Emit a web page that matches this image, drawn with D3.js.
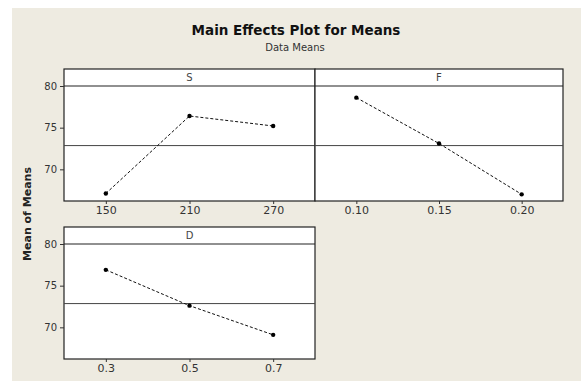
<!DOCTYPE html>
<html>
<head>
<meta charset="utf-8">
<script src="https://cdn.jsdelivr.net/npm/d3@7"></script>
<style>
  body { margin: 0; background: #fff; }
  svg { display: block; }
</style>
</head>
<body>
<div id="chart"></div>
<script>
// Main effects data
var factorNames = ["S", "F", "D"];
var sLevels = ["150", "210", "270"];
var sMeans = [67.1, 76.4, 75.2];
var fLevels = ["0.10", "0.15", "0.20"];
var fMeans = [78.6, 73.1, 67.0];
var dLevels = ["0.3", "0.5", "0.7"];
var dMeans = [76.9, 72.6, 69.1];
var grandMean = 72.85;
var yTicks = [70, 75, 80];

var panels = [
  { name: factorNames[0], levels: sLevels, means: sMeans, col: 0, row: 0, yAxis: true },
  { name: factorNames[1], levels: fLevels, means: fMeans, col: 1, row: 0, yAxis: false },
  { name: factorNames[2], levels: dLevels, means: dMeans, col: 0, row: 1, yAxis: true }
];

var width = 581, height = 381;
var colX = [64, 315, 563];
var rowTop = [69, 227];
var stripH = 17, plotH = 115;

var svg = d3.select("#chart").append("svg")
  .attr("width", width)
  .attr("height", height);

svg.append("rect")
  .attr("x", 12).attr("y", 8)
  .attr("width", width - 12).attr("height", height - 8)
  .attr("fill", "#eeebe1");

// titles
svg.append("text")
  .attr("x", 296).attr("y", 35)
  .attr("text-anchor", "middle")
  .attr("font-family", "DejaVu Sans")
  .attr("font-weight", "bold")
  .attr("font-size", "13.5px")
  .attr("fill", "#111")
  .text("Main Effects Plot for Means");

svg.append("text")
  .attr("x", 295).attr("y", 51)
  .attr("text-anchor", "middle")
  .attr("font-family", "DejaVu Sans")
  .attr("font-size", "10px")
  .attr("fill", "#333")
  .text("Data Means");

svg.append("text")
  .attr("transform", "translate(31," + ((rowTop[0] + rowTop[1] + stripH + plotH) / 2) + ") rotate(-90)")
  .attr("text-anchor", "middle")
  .attr("font-family", "DejaVu Sans")
  .attr("font-weight", "bold")
  .attr("font-size", "11px")
  .attr("fill", "#222")
  .text("Mean of Means");

panels.forEach(function(p) {
  var x0 = colX[p.col], x1 = colX[p.col + 1];
  var top = rowTop[p.row];
  var plotTop = top + stripH;

  var xScale = d3.scalePoint().domain(p.levels).range([x0, x1]).padding(0.5);
  var yScale = d3.scaleLinear().domain([66.2, 80]).range([plotTop + plotH, plotTop]);

  var g = svg.append("g");

  // panel box incl. strip
  g.append("rect")
    .attr("x", x0).attr("y", top)
    .attr("width", x1 - x0).attr("height", stripH + plotH)
    .attr("fill", "#fff")
    .attr("stroke", "#222")
    .attr("stroke-width", 1.2);

  // strip bottom line (coincides with 80)
  g.append("line")
    .attr("x1", x0).attr("x2", x1)
    .attr("y1", yScale(80)).attr("y2", yScale(80))
    .attr("stroke", "#222").attr("stroke-width", 1.2);

  g.append("text")
    .attr("x", (x0 + x1) / 2).attr("y", top + 12)
    .attr("text-anchor", "middle")
    .attr("font-family", "DejaVu Sans")
    .attr("font-size", "10px")
    .attr("fill", "#444")
    .text(p.name);

  // grand mean reference line
  g.append("line")
    .attr("x1", x0).attr("x2", x1)
    .attr("y1", yScale(grandMean)).attr("y2", yScale(grandMean))
    .attr("stroke", "#444").attr("stroke-width", 1);

  // x axis
  var xAxis = g.append("g")
    .attr("transform", "translate(0," + (plotTop + plotH) + ")")
    .call(d3.axisBottom(xScale).tickSize(3).tickPadding(2));
  xAxis.select(".domain").remove();
  xAxis.selectAll("line").attr("stroke", "#333");
  xAxis.selectAll("text")
    .attr("font-family", "DejaVu Sans")
    .attr("font-size", "11px")
    .attr("fill", "#333");

  if (p.yAxis) {
    var yAxis = g.append("g")
      .attr("transform", "translate(" + x0 + ",0)")
      .call(d3.axisLeft(yScale).tickValues(yTicks).tickSize(4).tickPadding(3));
    yAxis.select(".domain").remove();
    yAxis.selectAll("line").attr("stroke", "#333");
    yAxis.selectAll("text")
      .attr("font-family", "DejaVu Sans")
      .attr("font-size", "10px")
      .attr("fill", "#333");
  }

  var pts = p.levels.map(function(l, i) { return [l, p.means[i]]; });

  g.append("path")
    .datum(pts)
    .attr("fill", "none")
    .attr("stroke", "#111")
    .attr("stroke-width", 1)
    .attr("stroke-dasharray", "3,2")
    .attr("d", d3.line()
      .x(function(d) { return xScale(d[0]); })
      .y(function(d) { return yScale(d[1]); }));

  g.selectAll("circle")
    .data(pts)
    .enter().append("circle")
    .attr("cx", function(d) { return xScale(d[0]); })
    .attr("cy", function(d) { return yScale(d[1]); })
    .attr("r", 2.2)
    .attr("fill", "#000");
});
</script>
</body>
</html>
